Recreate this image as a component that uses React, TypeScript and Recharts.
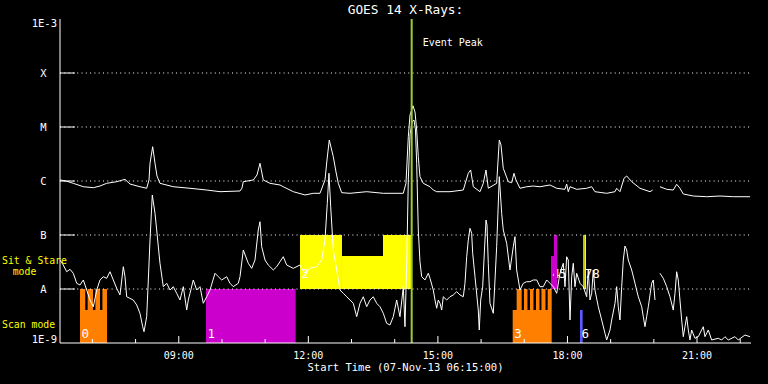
import React from "react";
import {
  ComposedChart,
  Line,
  XAxis,
  YAxis,
  ReferenceArea,
  ReferenceLine,
} from "recharts";

const MONO = "'DejaVu Sans Mono', monospace";

// GOES 14 long channel (1-8 A), log10 of flux in W/m^2, time in hours of 07-Nov-13
const longTimes = [
  6.25, 6.389, 6.558, 6.79, 7.021, 7.176, 7.331, 7.563, 7.755, 7.871,
  8.102, 8.257, 8.311, 8.334, 8.396, 8.45, 8.496, 8.565, 8.873, 9.26,
  9.647, 9.955, 10.418, 10.464, 10.494, 10.726, 10.811, 10.881, 10.957, 11.112,
  11.344, 11.42, 11.652, 11.923, 12.115, 12.27, 12.386, 12.432, 12.485, 12.578,
  12.641, 12.694, 12.773, 12.965, 13.351, 13.736, 14.199, 14.261, 14.315, 14.354,
  14.423, 14.47, 14.509, 14.546, 14.585, 14.662, 14.817, 14.893, 14.972, 15.28,
  15.588, 15.704, 15.759, 15.82, 15.975, 16.051, 16.114, 16.167, 16.361, 16.422,
  16.461, 16.514, 16.63, 16.709, 16.762, 16.808, 16.901, 17.056, 17.209, 17.364,
  17.595, 17.751, 17.943, 17.982, 18.019, 18.059, 18.214, 18.445, 18.561, 18.637,
  18.908, 19.101, 19.14, 19.216, 19.309, 19.371, 19.487, 19.679, 19.911, 19.973,
  20.073, 20.142, 20.298, 20.45, 20.529, 20.605, 20.682, 20.913, 21.224, 21.532,
  21.84, 22.226,
];
const longLevels = [
  -5.981, -6.0, -6.043, -6.106, -6.124, -6.093, -6.043, -6.013, -5.969, -6.056,
  -6.106, -6.135, -5.981, -5.672, -5.365, -5.672, -5.907, -6.043, -6.106, -6.135,
  -6.167, -6.198, -6.185, -6.13, -6.013, -5.981, -5.889, -5.672, -5.981, -6.043,
  -6.074, -6.106, -6.198, -6.259, -6.228, -6.228, -5.981, -5.611, -5.241, -5.55,
  -5.833, -6.043, -6.217, -6.228, -6.198, -6.228, -6.228, -6.043, -5.18, -4.778,
  -4.606, -4.722, -5.056, -5.55, -5.92, -6.043, -6.106, -6.167, -6.198, -6.198,
  -6.167, -5.857, -5.796, -6.106, -6.198, -6.043, -5.796, -6.135, -6.043, -5.241,
  -5.333, -5.765, -6.013, -6.031, -5.857, -5.981, -6.135, -6.106, -6.093, -6.106,
  -6.074, -6.135, -6.154, -6.056, -6.198, -6.106, -6.154, -6.135, -6.106, -6.198,
  -6.228, -6.198, -6.135, -6.198, -5.95, -5.907, -6.013, -6.135, -6.198, -6.167,
  null, -6.106, -6.154, -6.167, -6.061, -6.135, -6.241, -6.278, -6.291, -6.278,
  -6.291, -6.291,
];

// short channel (0.5-4 A)
const shortTimes = [
  6.25, 6.326, 6.405, 6.482, 6.558, 6.637, 6.713, 6.79, 6.868, 6.945,
  7.021, 7.1, 7.176, 7.253, 7.331, 7.408, 7.484, 7.563, 7.639, 7.716,
  7.755, 7.794, 7.947, 8.026, 8.102, 8.165, 8.195, 8.257, 8.295, 8.334,
  8.387, 8.45, 8.489, 8.565, 8.642, 8.721, 8.797, 8.873, 8.952, 9.028,
  9.105, 9.184, 9.221, 9.26, 9.336, 9.415, 9.492, 9.568, 9.647, 9.723,
  9.839, 9.915, 9.994, 10.11, 10.186, 10.263, 10.378, 10.418, 10.494, 10.61,
  10.689, 10.765, 10.841, 10.881, 10.92, 10.997, 11.073, 11.189, 11.267, 11.42,
  11.499, 11.575, 11.652, 11.807, 11.923, 12.039, 12.194, 12.309, 12.386, 12.439,
  12.478, 12.518, 12.578, 12.657, 12.733, 12.81, 12.888, 12.965, 13.041, 13.12,
  13.196, 13.273, 13.351, 13.428, 13.504, 13.583, 13.659, 13.736, 13.814, 13.891,
  13.967, 14.046, 14.122, 14.199, 14.238, 14.278, 14.315, 14.354, 14.4, 14.447,
  14.481, 14.509, 14.546, 14.585, 14.625, 14.701, 14.778, 14.817, 14.893, 14.933,
  14.972, 15.009, 15.049, 15.088, 15.125, 15.204, 15.28, 15.356, 15.435, 15.512,
  15.588, 15.627, 15.667, 15.704, 15.743, 15.782, 15.806, 15.859, 15.935, 15.958,
  15.991, 16.037, 16.067, 16.114, 16.137, 16.167, 16.206, 16.283, 16.361, 16.422,
  16.477, 16.514, 16.593, 16.669, 16.746, 16.785, 16.824, 16.901, 16.977, 17.056,
  17.132, 17.209, 17.288, 17.364, 17.44, 17.519, 17.595, 17.672, 17.751, 17.827,
  17.903, 17.943, 17.982, 18.019, 18.059, 18.098, 18.135, 18.174, 18.214, 18.29,
  18.366, 18.445, 18.482, 18.522, 18.561, 18.598, 18.637, 18.714, 18.793, 18.869,
  18.908, 18.985, 19.024, 19.101, 19.14, 19.177, 19.216, 19.256, 19.293, 19.332,
  19.371, 19.408, 19.487, 19.564, 19.64, 19.719, 19.756, 19.795, 19.834, 19.872,
  19.95, 19.987, 20.027, 20.073, 20.142, 20.219, 20.298, 20.374, 20.45, 20.49,
  20.529, 20.566, 20.605, 20.645, 20.682, 20.721, 20.761, 20.798, 20.837, 20.876,
  20.953, 21.029, 21.145, 21.184, 21.261, 21.339, 21.492, 21.571, 21.647, 21.724,
  21.879, 21.955, 22.111, 22.226,
];
const shortLevels = [
  -7.463, -7.556, -7.68, -7.635, -7.709, -7.894, -7.926, -7.833, -8.019, -8.204,
  -8.328, -8.019, -7.833, -7.772, -7.802, -7.68, -7.833, -7.987, -8.111, -7.587,
  -7.772, -8.143, -8.204, -8.296, -8.45, -8.698, -8.791, -8.513, -7.833, -7.093,
  -6.259, -6.598, -6.907, -7.524, -7.957, -7.894, -8.019, -7.957, -8.08, -8.204,
  -7.957, -8.389, -8.204, -8.08, -7.833, -8.019, -7.957, -8.265, -8.143, -8.019,
  -7.709, -7.772, -7.833, -7.772, -7.894, -7.957, -7.894, -7.772, -7.278, -7.524,
  -7.617, -7.463, -6.907, -6.754, -7.217, -7.463, -7.556, -7.648, -7.587, -7.402,
  -7.556, -7.587, -7.617, -7.556, -7.709, -7.617, -7.587, -7.463, -7.093, -6.413,
  -5.857, -6.476, -7.278, -7.648, -8.019, -8.08, -8.143, -8.204, -8.265, -8.513,
  -8.265, -8.143, -8.328, -8.204, -8.143, -8.265, -8.328, -8.45, -8.635, -8.667,
  -8.513, -8.204, -8.513, -7.957, -8.698, -7.524, -5.981, -5.148, -4.907, -4.87,
  -5.056, -5.672, -6.907, -7.494, -7.772, -7.833, -7.709, -7.802, -8.019, -8.204,
  -8.357, -8.204, -8.265, -8.389, -8.143, -8.204, -8.143, -8.111, -8.05, -8.111,
  -8.143, -7.894, -7.402, -7.093, -6.876, -6.969, -7.339, -7.772, -8.389, -8.759,
  -8.204, -7.957, -7.463, -6.722, -6.815, -7.524, -8.265, -8.45, -7.217, -5.92,
  -6.598, -6.907, -7.154, -7.648, -7.217, -7.031, -7.648, -8.019, -7.894, -7.865,
  -7.865, -7.833, -7.833, -7.957, -7.957, -7.833, -7.894, -7.957, -8.08, -7.709,
  -7.524, -7.957, -7.402, -7.463, -8.574, -7.772, -7.524, -7.957, -7.709, -7.894,
  -7.957, -8.143, -7.648, -8.204, -8.08, -7.648, -8.019, -8.328, -8.574, -8.82,
  -8.944, -8.759, -8.574, -8.265, -7.957, -8.328, -8.574, -7.957, -7.463, -7.204,
  -7.278, -7.463, -7.648, -7.894, -8.143, -8.328, -8.513, -8.698, -8.513, -8.328,
  -7.894, -7.833, -8.204, null, -7.709, -7.802, -7.957, -8.143, -8.389, -8.08,
  -7.68, -7.833, -8.204, -8.574, -8.883, -8.698, -8.513, -8.759, -8.944, -8.759,
  -8.913, -8.883, -8.698, -8.883, -8.759, -8.944, -8.913, -8.944, -8.883, -8.944,
  -8.883, -8.944, -8.852, -8.883,
];

const hourTicks = [7, 8, 9, 10, 11, 12, 13, 14, 15, 16, 17, 18, 19, 20, 21, 22];
const hourLabels: Record<number, string> = {
  9: "09:00",
  12: "12:00",
  15: "15:00",
  18: "18:00",
  21: "21:00",
};
const levelTicks = [-9, -8, -7, -6, -5, -4, -3];
const levelLabels: Record<number, string> = {
  [-3]: "1E-3",
  [-4]: "X",
  [-5]: "M",
  [-6]: "C",
  [-7]: "B",
  [-8]: "A",
  [-9]: "1E-9",
};
const gridLevels = [-8, -7, -6, -5, -4];
const eventPeak = 14.393;

// observing mode blocks (hours, log10 flux band)
const modeBlocks = [
  { mode: 0, from: 6.713, to: 7.338, low: -9, high: -8.389, label: "0" },
  { mode: 0, from: 6.713, to: 6.835, low: -8.389, high: -8 },
  { mode: 0, from: 6.89, to: 7.014, low: -8.389, high: -8 },
  { mode: 0, from: 7.07, to: 7.176, low: -8.389, high: -8 },
  { mode: 0, from: 7.232, to: 7.338, low: -8.389, high: -8 },
  { mode: 1, from: 9.63, to: 11.707, low: -9, high: -8, label: "1" },
  { mode: 2, from: 11.807, to: 12.779, low: -8, high: -7, label: "2" },
  { mode: 2, from: 12.779, to: 13.729, low: -8, high: -7.389 },
  { mode: 2, from: 13.729, to: 14.377, low: -8, high: -7 },
  { mode: 3, from: 16.732, to: 17.635, low: -9, high: -8.389, label: "3" },
  { mode: 3, from: 16.824, to: 16.94, low: -8.389, high: -8 },
  { mode: 3, from: 16.993, to: 17.074, low: -8.389, high: -8 },
  { mode: 3, from: 17.132, to: 17.213, low: -8.389, high: -8 },
  { mode: 3, from: 17.271, to: 17.352, low: -8.389, high: -8 },
  { mode: 3, from: 17.398, to: 17.491, low: -8.389, high: -8 },
  { mode: 3, from: 17.542, to: 17.635, low: -8.389, high: -8 },
  { mode: 4, from: 17.618, to: 17.688, low: -8, high: -7.389, label: "4" },
  { mode: 5, from: 17.688, to: 17.764, low: -8, high: -7, label: "5" },
  { mode: 6, from: 18.29, to: 18.352, low: -9, high: -8.389, label: "6" },
  { mode: 7, from: 18.366, to: 18.398, low: -8, high: -7, label: "7" },
  { mode: 8, from: 18.398, to: 18.429, low: -8, high: -7, label: "8" },
];
const modeColors = [
  "#ff8000", "#cc00cc", "#ffff00", "#ff8000", "#cc00cc",
  "#cc00cc", "#5a5aff", "#ffff00", "#ffff00",
];
// small sideways nudge for labels of neighbouring blocks
const labelNudge: Record<number, number> = { 5: 3.5, 8: 6 };

const longData = longTimes.map((t, i) => ({ t, v: longLevels[i] }));
const shortData = shortTimes.map((t, i) => ({ t, v: shortLevels[i] }));

function BottomTick(props: any) {
  const { x, y, payload } = props;
  const label = hourLabels[payload.value];
  return (
    <g>
      <line x1={x} x2={x} y1={y} y2={y - (label ? 7 : 4)} stroke="#fff" />
      {label && (
        <text x={x} y={y + 15.5} textAnchor="middle" fill="#fff" fontSize={10} fontFamily={MONO}>
          {label}
        </text>
      )}
    </g>
  );
}

function TopTick(props: any) {
  const { x, y, payload } = props;
  const major = hourLabels[payload.value];
  return <line x1={x} x2={x} y1={y} y2={y + (major ? 7 : 4)} stroke="#fff" />;
}

function LeftTick(props: any) {
  const { x, y, payload } = props;
  const v = payload.value;
  const inner = v > -9 && v < -3;
  return (
    <g>
      {inner && <line x1={x} x2={x + 15} y1={y} y2={y} stroke="#fff" />}
      <text
        x={inner ? x - 16.5 : x - 3}
        y={v === -3 ? y + 7.7 : v === -9 ? y : y + 4}
        textAnchor={inner ? "middle" : "end"}
        fill="#fff"
        fontSize={10.5}
        fontFamily={MONO}
      >
        {levelLabels[v]}
      </text>
    </g>
  );
}

function RightTick(props: any) {
  const { x, y, payload } = props;
  const v = payload.value;
  if (v <= -9 || v >= -3) return <g />;
  return <line x1={x - 15} x2={x} y1={y} y2={y} stroke="#fff" />;
}

function modeLabel(text: string, lift: number, nudge: number) {
  return (p: any) => {
    const vb = p.viewBox;
    return (
      <text
        x={vb.x + 1.5 + nudge}
        y={vb.y + vb.height - lift}
        fill="#fff"
        fontSize={12.5}
        fontFamily={MONO}
      >
        {text}
      </text>
    );
  };
}

function peakLabel(p: any) {
  const vb = p.viewBox;
  return (
    <text x={vb.x + 11} y={vb.y + 27} fill="#fff" fontSize={10} fontFamily={MONO}>
      Event Peak
    </text>
  );
}

export default function App() {
  return (
    <div
      style={{
        position: "absolute",
        left: 0,
        top: 0,
        width: 768,
        height: 384,
        background: "#000",
      }}
    >
      <ComposedChart
        width={768}
        height={384}
        margin={{ top: 19, right: 17, bottom: 0, left: 0 }}
      >
        <XAxis
          dataKey="t"
          type="number"
          domain={[6.25, 22.25]}
          allowDataOverflow
          ticks={hourTicks}
          interval={0}
          tick={<BottomTick />}
          tickLine={false}
          tickSize={0}
          tickMargin={0}
          axisLine={{ stroke: "#fff" }}
          height={41}
          label={{
            value: "Start Time (07-Nov-13 06:15:00)",
            position: "insideBottom",
            offset: 13,
            fill: "#fff",
            fontSize: 10.5,
            fontFamily: MONO,
          }}
        />
        <XAxis
          xAxisId="top"
          orientation="top"
          type="number"
          domain={[6.25, 22.25]}
          allowDataOverflow
          ticks={hourTicks}
          interval={0}
          tick={<TopTick />}
          tickLine={false}
          tickSize={0}
          tickMargin={0}
          axisLine={{ stroke: "#fff" }}
          height={0}
        />
        <YAxis
          type="number"
          domain={[-9, -3]}
          allowDataOverflow
          ticks={levelTicks}
          interval={0}
          tick={<LeftTick />}
          tickLine={false}
          tickSize={0}
          tickMargin={0}
          axisLine={{ stroke: "#fff" }}
          width={60}
        />
        <YAxis
          yAxisId="right"
          orientation="right"
          type="number"
          domain={[-9, -3]}
          allowDataOverflow
          ticks={levelTicks}
          interval={0}
          tick={<RightTick />}
          tickLine={false}
          tickSize={0}
          tickMargin={0}
          axisLine={{ stroke: "#fff" }}
          width={0}
        />
        {gridLevels.map((g) => (
          <ReferenceLine key={"g" + g} y={g} stroke="#fff" strokeDasharray="1 3.3" />
        ))}
        {modeBlocks.map((b, i) => (
          <ReferenceArea
            key={"m" + i}
            x1={b.from}
            x2={b.to}
            y1={b.low}
            y2={b.high}
            fill={modeColors[b.mode]}
            fillOpacity={1}
            stroke="none"
            label={
              b.label
                ? modeLabel(b.label, b.low === -9 ? 5 : 11, labelNudge[b.mode] || 0)
                : undefined
            }
          />
        ))}
        <Line
          data={longData}
          dataKey="v"
          type="linear"
          stroke="#fff"
          strokeWidth={1}
          dot={false}
          activeDot={false}
          connectNulls={false}
          isAnimationActive={false}
        />
        <Line
          data={shortData}
          dataKey="v"
          type="linear"
          stroke="#fff"
          strokeWidth={1}
          dot={false}
          activeDot={false}
          connectNulls={false}
          isAnimationActive={false}
        />
        <ReferenceLine x={eventPeak} stroke="#9acd32" strokeWidth={2} label={peakLabel} />
      </ComposedChart>
      <svg
        width={768}
        height={384}
        style={{ position: "absolute", left: 0, top: 0, pointerEvents: "none" }}
      >
        <text x={405.5} y={13.5} textAnchor="middle" fill="#fff" fontSize={12.8} fontFamily={MONO}>
          GOES 14 X-Rays:
        </text>
        <text x={2} y={263.5} fill="#ffff00" fontSize={9.8} fontFamily={MONO}>
          Sit &amp; Stare
        </text>
        <text x={12.7} y={275} fill="#ffff00" fontSize={9.8} fontFamily={MONO}>
          mode
        </text>
        <text x={2} y={328} fill="#ffff00" fontSize={9.8} fontFamily={MONO}>
          Scan mode
        </text>
      </svg>
    </div>
  );
}
